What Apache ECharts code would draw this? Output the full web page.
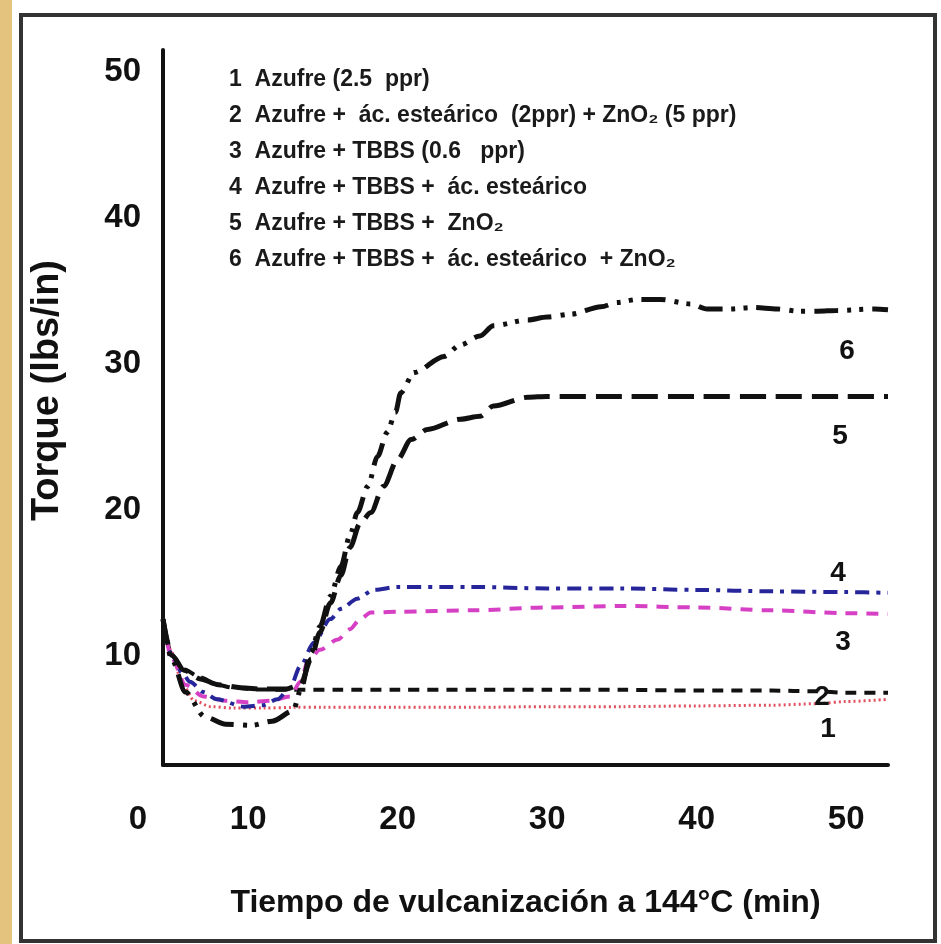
<!DOCTYPE html>
<html>
<head>
<meta charset="utf-8">
<title>Torque vs tiempo de vulcanización</title>
<script src="https://cdn.jsdelivr.net/npm/echarts@6.0.0/dist/echarts.min.js"></script>
<style>
  html, body { margin: 0; padding: 0; background: #fff; }
  #chart { width: 941px; height: 944px; }
</style>
</head>
<body>
<div id="chart"></div>
<script>
// tick labels
const xTicks = [10, 20, 30, 40, 50]
const yTicks = [10, 20, 30, 40, 50]

// texto de la leyenda (arriba a la izquierda)
const legendLines = [
  '1  Azufre (2.5  ppr)',
  '2  Azufre +  ác. esteárico  (2ppr) + ZnO₂ (5 ppr)',
  '3  Azufre + TBBS (0.6   ppr)',
  '4  Azufre + TBBS +  ác. esteárico',
  '5  Azufre + TBBS +  ZnO₂',
  '6  Azufre + TBBS +  ác. esteárico  + ZnO₂'
]
const curveNames = ['1', '2', '3', '4', '5', '6']

// 1 Azufre
const t1 = [4.3, 4.9, 5.6, 6.4, 7.5, 9, 11, 13, 15, 20, 25, 30, 35, 40, 45, 48, 50, 52.8]
const v1 = [12.5, 10.2, 8.0, 6.9, 6.5, 6.4, 6.4, 6.45, 6.45, 6.45, 6.45, 6.5, 6.5, 6.55, 6.6, 6.7, 6.85, 7.0]
// 2 Azufre + ác. esteárico + ZnO2
const t2 = [4.3, 4.9, 5.7, 6.8, 7.9, 9.0, 10.6, 13, 16, 20, 25, 30, 35, 40, 45, 48, 50, 52.8]
const v2 = [12.5, 10.0, 9.05, 8.5, 8.0, 7.8, 7.68, 7.65, 7.65, 7.65, 7.65, 7.65, 7.65, 7.6, 7.6, 7.55, 7.45, 7.45]
// 3 Azufre + TBBS
const t3 = [4.3, 4.9, 5.8, 7.0, 8.5, 10, 11.5, 12.8, 13.5, 14.0, 14.8, 16.0, 16.8, 17.5, 18.2, 20, 25, 30, 35, 40, 45, 50, 52.8]
const v3 = [12.5, 9.8, 8.0, 7.2, 6.9, 6.8, 6.9, 7.2, 8.2, 9.6, 10.4, 11.1, 11.8, 12.5, 12.95, 13.0, 13.1, 13.3, 13.4, 13.3, 13.1, 12.9, 12.85]
// 4 Azufre + TBBS + ác. esteárico
const t4 = [4.3, 4.9, 5.6, 6.1, 7.0, 7.9, 9.7, 11.0, 11.95, 12.8, 13.5, 14.4, 15.5, 16.2, 17.3, 18.4, 20, 25, 30, 35, 40, 45, 50, 52.8]
const v4 = [12.5, 10.0, 8.8, 8.2, 7.5, 7.0, 6.5, 6.6, 7.0, 7.8, 9.3, 10.9, 12.5, 13.2, 13.9, 14.5, 14.7, 14.7, 14.6, 14.6, 14.5, 14.4, 14.35, 14.3]
// 5 Azufre + TBBS + ZnO2
const t5 = [4.3, 4.9, 5.7, 6.8, 8.0, 9.5, 11, 12.5, 13.5, 14.2, 14.8, 15.5, 16.2, 16.8, 17.5, 18.2, 19.05, 20, 20.9, 22, 24.2, 25.5, 26.4, 28.7, 30, 35, 40, 45, 50, 52.8]
const v5 = [12.5, 10.0, 9.0, 8.4, 8.0, 7.8, 7.7, 7.7, 8.0, 9.74, 11.6, 13.6, 15.5, 17.4, 19.1, 19.8, 21.6, 23.45, 24.8, 25.5, 26.2, 26.4, 27.1, 27.7, 27.76, 27.76, 27.76, 27.76, 27.76, 27.76]
// 6 Azufre + TBBS + ác. esteárico + ZnO2
const t6 = [4.3, 4.9, 5.8, 7.1, 8.5, 10.2, 11.6, 13.0, 13.5, 14.2, 14.8, 15.5, 16.2, 16.8, 17.3, 18.0, 18.65, 19.3, 19.85, 20.2, 21.1, 23.1, 24.2, 25.5, 26.4, 28.7, 30, 31.6, 33.6, 34.7, 36, 37.6, 39.6, 40.7, 42.1, 43.8, 45.4, 46.8, 48.1, 49.4, 51.9, 52.8]
const v6 = [12.5, 9.7, 7.5, 5.8, 5.3, 5.22, 5.5, 6.2, 7.6, 10.2, 12.0, 14.06, 16.1, 18.2, 19.8, 21.6, 23.65, 25.3, 26.67, 28.0, 29.4, 30.5, 31.3, 31.9, 32.6, 33.0, 33.2, 33.4, 33.9, 34.2, 34.4, 34.4, 34.1, 33.75, 33.75, 33.85, 33.75, 33.6, 33.6, 33.65, 33.75, 33.7]

const FONT = '"Liberation Sans", Arial, sans-serif'

// estilo de cada curva
const styles = [
  { color: '#e0505e', dash: [2, 3], width: 3, off: [-60, 30] },
  { color: '#111111', dash: [11, 8], width: 4, off: [-66, 5] },
  { color: '#d640c4', dash: [12, 9], width: 4, off: [-45, 28] },
  { color: '#26269a', dash: [14, 7, 4, 7], width: 4, off: [-50, -20] },
  { color: '#111111', dash: [26, 10], width: 5, off: [-48, 40] },
  { color: '#111111', dash: [24, 9, 4, 8, 4, 9], width: 5, off: [-41, 42] }
]
const times = [t1, t2, t3, t4, t5, t6]
const torques = [v1, v2, v3, v4, v5, v6]

const chart = echarts.init(document.getElementById('chart'))

const series = curveNames.map((name, i) => ({
  type: 'line',
  name: name,
  data: times[i].map((t, j) => [t, torques[i][j]]),
  symbol: 'none',
  smooth: 0.3,
  smoothMonotone: 'x',
  lineStyle: { color: styles[i].color, width: styles[i].width, type: styles[i].dash },
  endLabel: {
    show: true,
    formatter: name,
    offset: styles[i].off,
    distance: 0,
    align: 'center',
    verticalAlign: 'middle',
    fontFamily: FONT,
    fontSize: 28,
    fontWeight: 'bold',
    color: '#111'
  }
}))

const option = {
  animation: false,
  backgroundColor: '#fff',
  title: {
    left: 224,
    top: 57,
    text: legendLines.join('\n'),
    textStyle: { fontFamily: FONT, fontSize: 23, fontWeight: 'bold', lineHeight: 36, color: '#1a1a1a' }
  },
  grid: { left: 163, right: 53, top: 50, bottom: 179 },
  xAxis: {
    type: 'value',
    min: 4.3,
    max: 52.8,
    name: 'Tiempo de vulcanización a 144°C (min)',
    nameLocation: 'middle',
    nameGap: 122,
    nameTextStyle: { fontFamily: FONT, fontSize: 32, fontWeight: 'bold', color: '#111' },
    axisLine: { lineStyle: { color: '#111', width: 4 } },
    axisTick: { show: false },
    splitLine: { show: false },
    axisLabel: { customValues: xTicks, margin: 38, fontFamily: FONT, fontSize: 33, fontWeight: 'bold', color: '#111' }
  },
  yAxis: {
    type: 'value',
    min: 2.5,
    max: 51.5,
    name: 'Torque (lbs/in)',
    nameLocation: 'middle',
    nameRotate: 90,
    nameGap: 96,
    nameTextStyle: { fontFamily: FONT, fontSize: 38, fontWeight: 'bold', color: '#111', padding: [0, 0, 0, 34] },
    axisLine: { show: true, lineStyle: { color: '#111', width: 4 } },
    axisTick: { show: false },
    splitLine: { show: false },
    axisLabel: { customValues: yTicks, margin: 22, fontFamily: FONT, fontSize: 33, fontWeight: 'bold', color: '#111' }
  },
  graphic: [
    { type: 'rect', left: 0, top: 0, shape: { width: 12, height: 944 }, style: { fill: '#e4c37f' } },
    { type: 'rect', shape: { x: 21, y: 15, width: 914, height: 926 }, style: { fill: 'none', stroke: '#333', lineWidth: 4 } },
    { type: 'text', x: 138, y: 820, style: { text: '0', font: 'bold 33px "Liberation Sans", Arial, sans-serif', fill: '#111', align: 'center', verticalAlign: 'middle' } }
  ],
  series: series
}

chart.setOption(option)
</script>
</body>
</html>
